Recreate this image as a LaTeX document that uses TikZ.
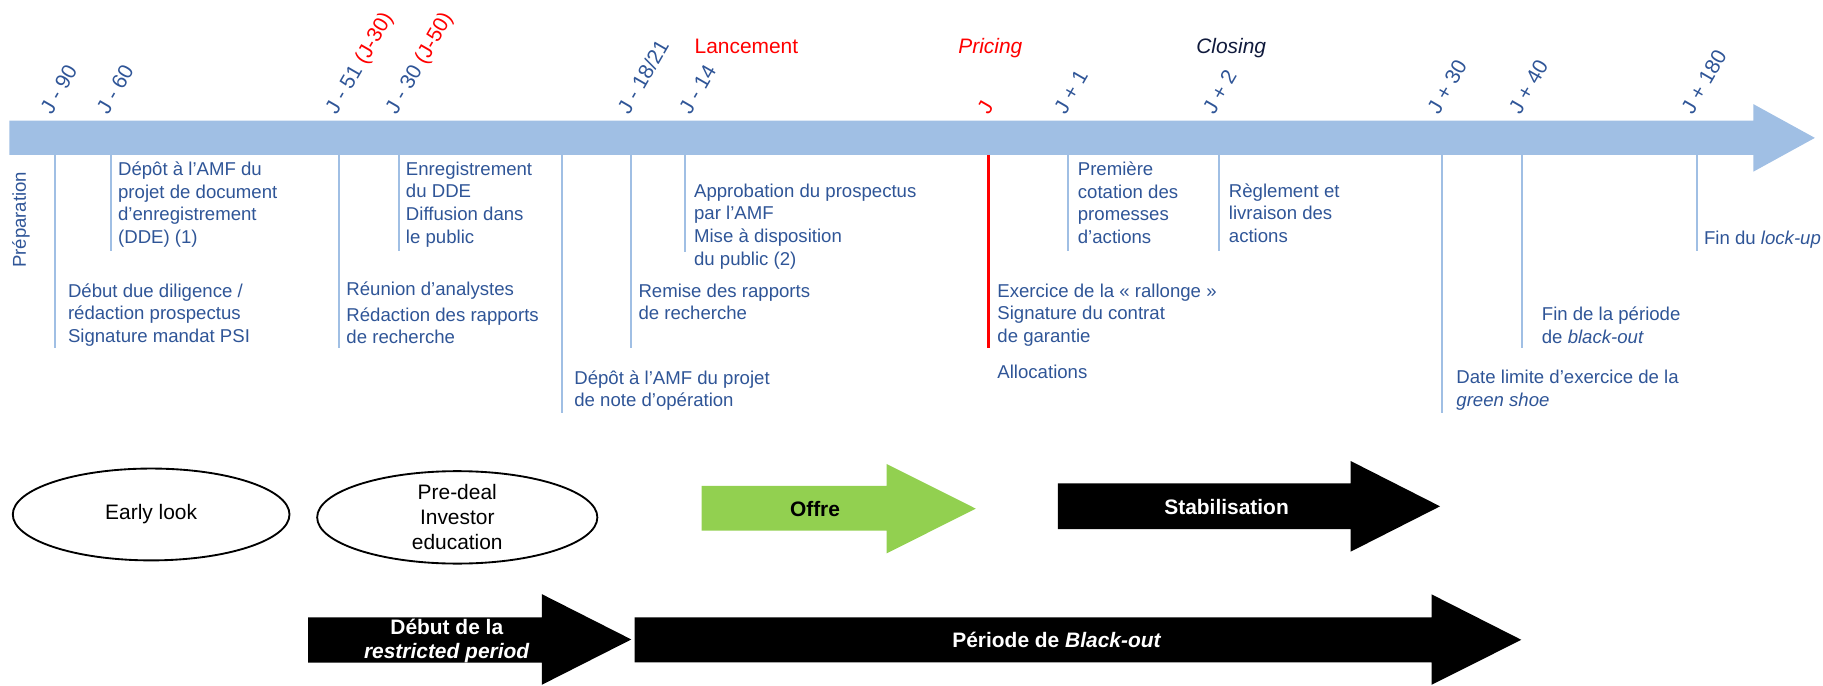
\documentclass[tikz,border=0pt]{standalone}
\usepackage{fontspec}
\setmainfont{Liberation Sans}
\usetikzlibrary{shapes.geometric}
\definecolor{barblue}{RGB}{160,191,228}
\definecolor{tblue}{RGB}{47,85,151}
\definecolor{offgreen}{RGB}{146,208,80}
\definecolor{navy}{RGB}{16,26,60}
\definecolor{jred}{RGB}{255,0,0}
\begin{document}
\begin{tikzpicture}[x=1pt,y=-1pt,
  lbl/.style={text=tblue, font=\fontsize{18}{20}\selectfont, rotate=60, anchor=base west, inner sep=0pt},
  body/.style={text=tblue, font=\fontsize{16}{19.5}\selectfont, align=left, anchor=north west, inner sep=0pt, execute at begin node=\strut},
  tick/.style={draw=barblue, line width=1.8pt},
  headtxt/.style={font=\fontsize{18}{20}\selectfont, anchor=base, inner sep=0pt},
  boldtxt/.style={font=\fontsize{18}{20.7}\selectfont\bfseries, inner sep=0pt, align=center},
  ell/.style={ellipse, draw=black, line width=1.6pt, minimum width=238pt, minimum height=79pt, inner sep=0pt, font=\fontsize{18}{21.5}\selectfont, align=center},
]
\useasboundingbox (0,0) rectangle (1568,589.2);

% main timeline arrow
\fill[barblue] (8,103.8) -- (1508,103.8) -- (1508,89.5) -- (1561,118.6) -- (1508,147.7) -- (1508,133.3) -- (8,133.3) -- cycle;

% tick coordinates
\foreach \n/\x/\e in {a/47/299, b/95.5/216, c/291.3/299, d/343.3/216, e/483.3/355.5, f/542.4/299, g/589/216.5, i/918.8/216, j/1048.5/216, k/1240.5/355.5, l/1309/299, m/1459.3/216}{
  \coordinate (s\n) at (\x,133.3);
  \coordinate (t\n) at (\x,\e);
  \draw[tick] (s\n) -- (t\n);
}
\coordinate (sh) at (850.2,133.3);
\coordinate (th) at (850.2,299);
\draw[draw=jred, line width=2pt] (sh) -- (th);

% rotated date labels
\node[lbl] (l90) at (44.5,99.5) {J - 90};
\node[lbl] (l60) at (93,99.5) {J - 60};
\node[lbl] (l51) at (289.5,99.5) {J - 51 \textcolor{jred}{(J-30)}};
\node[lbl] (l30) at (341,99.5) {J - 30 \textcolor{jred}{(J-50)}};
\node[lbl] (l18) at (541,99.5) {J - 18/21};
\node[lbl] (l14) at (594,99.5) {J - 14};
\node[lbl, text=jred] (lJ) at (850.5,99.5) {J};
\node[lbl] (lp1) at (916.5,99.5) {J + 1};
\node[lbl] (lp2) at (1044.5,99.5) {J + 2};
\node[lbl] (lp30) at (1237.5,99.5) {J + 30};
\node[lbl] (lp40) at (1307.5,99.5) {J + 40};
\node[lbl] (lp180) at (1456,99.5) {J + 180};

% headings
\node[headtxt, text=jred] (lanc) at (642,46) {Lancement};
\node[headtxt, text=jred] (pric) at (851.8,46) {\itshape Pricing};
\node[headtxt, text=navy] (clos) at (1059,46) {\itshape Closing};

% texts
\node[text=tblue, font=\fontsize{16}{19.5}\selectfont, rotate=90, inner sep=0pt] (prep) at (18,189) {Préparation};
\node[body] (b60) at (101.4,139) {Dépôt à l’AMF du\\projet de document\\d’enregistrement\\(DDE) (1)};
\node[body] (b30) at (349,139) {Enregistrement\\du DDE\\Diffusion dans\\le public};
\node[body] (bp1) at (926.9,139) {Première\\cotation des\\promesses\\d’actions};
\node[body] (b14) at (596.8,157.7) {Approbation du prospectus\\par l’AMF\\Mise à disposition\\du public (2)};
\node[body] (bp2) at (1056.8,157.7) {Règlement et\\livraison des\\actions};
\node[body] (bp180) at (1465.5,196.4) {Fin du \textit{lock-up}};
\node[body] (b90) at (58.3,243.7) {Début due diligence /\\rédaction prospectus\\Signature mandat PSI};
\node[body] (b51) at (297.8,242.3) {Réunion d’analystes\\[2.5pt]Rédaction des rapports\\de recherche};
\node[body] (b18) at (549,243.7) {Remise des rapports\\de recherche};
\node[body] (bJ) at (857.7,243.7) {Exercice de la « rallonge »\\Signature du contrat\\de garantie};
\node[body] (bJa) at (857.7,312) {Allocations};
\node[body] (bp40) at (1326,263.8) {Fin de la période\\de \textit{black-out}};
\node[body] (be) at (493.8,318.3) {Dépôt à l’AMF du projet\\de note d’opération};
\node[body] (bp30) at (1252.5,318.3) {Date limite d’exercice de la\\\textit{green shoe}};

% bottom phases
\node[ell] (early) at (130,442.5) {Early look};
\node[ell, minimum width=241pt] (predeal) at (393.3,445) {Pre-deal\\Investor\\education};

\fill[offgreen] (603.4,418) -- (762.5,418) -- (762.5,399) -- (839.3,437.5) -- (762.5,476) -- (762.5,456.5) -- (603.4,456.5) -- cycle;
\node[boldtxt] (offre) at (701,437.5) {Offre};

\fill[black] (909.8,415.7) -- (1161.7,415.7) -- (1161.7,396.5) -- (1238.6,435.5) -- (1161.7,474.5) -- (1161.7,455) -- (909.8,455) -- cycle;
\node[boldtxt, text=white] (stab) at (1055,435.8) {Stabilisation};

\fill[black] (265,531) -- (466,531) -- (466,511) -- (543,550) -- (466,589) -- (466,570) -- (265,570) -- cycle;
\node[boldtxt, text=white] (restr) at (384.3,551.6) {Début de la\\\textit{restricted period}};

\fill[black] (545.8,531) -- (1231.3,531) -- (1231.3,511.2) -- (1308.5,550.3) -- (1231.3,589) -- (1231.3,569.7) -- (545.8,569.7) -- cycle;
\node[boldtxt, text=white] (blk) at (909,550.5) {Période de \textit{Black-out}};
\end{tikzpicture}
\end{document}
